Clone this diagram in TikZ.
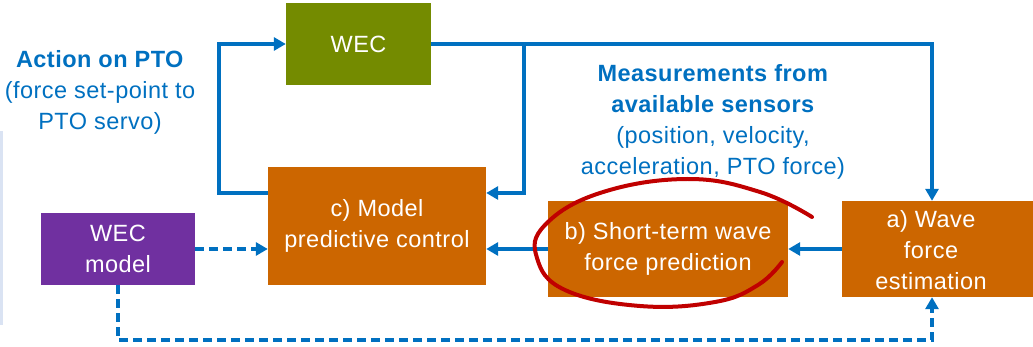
\documentclass[tikz,border=0pt]{standalone}
\usepackage{fontspec}
\setmainfont{Liberation Sans}
\usepackage{tikz}
\usetikzlibrary{arrows.meta}
\definecolor{wecgreen}{HTML}{748B00}
\definecolor{ctrlorange}{HTML}{CC6600}
\definecolor{modelpurple}{HTML}{7030A0}
\definecolor{flowblue}{HTML}{0070C0}
\definecolor{markred}{HTML}{C00000}
\definecolor{edgelilac}{HTML}{DAE3F3}

\begin{document}
\begin{tikzpicture}[x=1pt, y=-1pt,
   box/.style={inner sep=0pt, text=white, align=center, font=\fontsize{23.5}{31}\selectfont\addfontfeatures{LetterSpace=2}},
   flow/.style={flowblue, line width=4pt, -{Triangle[length=12pt,width=13pt]}},
   dashflow/.style={flow, dash pattern=on 9pt off 5pt},
   note/.style={text=flowblue, align=center, font=\fontsize{23.5}{31}\selectfont\addfontfeatures{LetterSpace=2}}]
      \clip (0,0) rectangle (1033,347);
      \fill[edgelilac] (0,131) rectangle (3,325);

      \node[box, fill=wecgreen, minimum width=145pt, minimum height=82pt] (WEC) at (358.5,44) {WEC};
      \node[box, fill=ctrlorange, minimum width=218pt, minimum height=118pt] (MPC) at (377,226) {c) Model\\predictive control};
      \node[box, fill=ctrlorange, minimum width=240pt, minimum height=96pt] (PRED) at (668,249) {b) Short-term wave\\force prediction};
      \node[box, fill=ctrlorange, minimum width=198pt, minimum height=96pt] (EST) at (941,249) {};
      \node[box] (ESTTXT) at (931,250) {a) Wave\\force\\estimation};
      \node[box, fill=modelpurple, minimum width=154pt, minimum height=72pt] (MODEL) at (118,249) {WEC\\model};

      \node[note] (ACTION) at (100,92) {\textbf{Action on PTO}\\(force set-point to\\PTO servo)};
      \node[note] (SENSORS) at (713,122) {\textbf{Measurements from}\\\textbf{available sensors}\\(position, velocity,\\acceleration, PTO force)};

      \coordinate (split) at (524,44);
      \coordinate (low) at (0,340);

      \draw[flow] ([yshift=33pt]MPC.west) -- ++(-49,0) |- (WEC.west);
      \draw[flow] (WEC.east) -| ([xshift=-9pt]EST.north);
      \draw[flow] (split) |- ([yshift=33pt]MPC.east);
      \draw[flow] (EST.west) -- (PRED.east);
      \draw[flow] (PRED.west) -- (PRED.west -| MPC.east);
      \draw[dashflow] (MODEL.east) -- (MODEL.east -| MPC.west);
      \draw[dashflow] (MODEL.south) |- ([xshift=-9pt]EST.south |- low) -- ([xshift=-9pt]EST.south);

      \draw[markred, line width=4pt, line cap=round] plot[smooth, tension=0.7] coordinates {(812,217) (760,192) (687,179) (600,193) (545,225) (537,258) (565,290) (640,306) (715,302) (758,285) (782,262)};
\end{tikzpicture}
\end{document}
